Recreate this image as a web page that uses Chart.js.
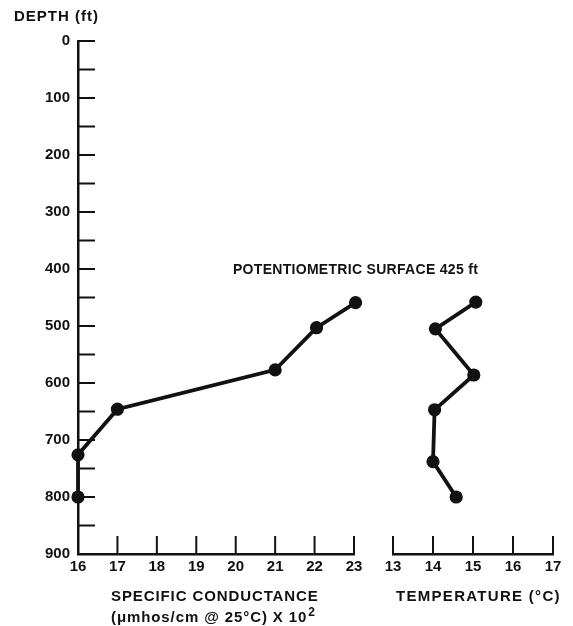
<!DOCTYPE html>
<html><head><meta charset="utf-8">
<script src="https://cdn.jsdelivr.net/npm/chart.js@4/dist/chart.umd.min.js"></script>
<style>
html,body{margin:0;padding:0;background:#fff;}
#wrap{position:relative;width:573px;height:626px;overflow:hidden;}
canvas{position:absolute;left:0;top:0;}
</style></head><body>
<div id="wrap"><canvas id="c1" width="573" height="626"></canvas><canvas id="c2" width="573" height="626"></canvas></div>
<script>
// ---- data ----
const depthCond = [459, 503, 577, 646, 726, 800];
const conductance = [23.04, 22.05, 21.0, 17.0, 16.0, 16.0];
const depthTemp = [458, 505, 586, 647, 738, 800];
const temperature = [15.07, 14.06, 15.02, 14.04, 14.0, 14.58];
const depthTicks = [0,50,100,150,200,250,300,350,400,450,500,550,600,650,700,750,800,850,900];
const condTicks = [16,17,18,19,20,21,22,23];
const tempTicks = [13,14,15,16,17];
const depthTitle = 'DEPTH (ft)';
const condTitle = ['SPECIFIC CONDUCTANCE', '(\u03BCmhos/cm @ 25\u00B0C) X 10'];
const condTitleSup = '2';
const tempTitle = 'TEMPERATURE (\u00B0C)';
const noteText = 'POTENTIOMETRIC SURFACE 425 ft';
const noteAt = {cond: 19.93, depth: 402};

const FF = "'Liberation Sans', Arial, sans-serif";
const INK = '#111';
const tickFont = {family: FF, size: 15, weight: 'bold'};

function pts(xs, ys){ return xs.map((x,i)=>({x:x, y:ys[i]})); }

function inwardTicks(chart, yTicks){
  const ctx = chart.ctx, x = chart.scales.x, a = chart.chartArea;
  ctx.save();
  ctx.strokeStyle = INK; ctx.lineWidth = 2;
  x.ticks.forEach(t => {
    const px = x.getPixelForValue(t.value);
    ctx.beginPath(); ctx.moveTo(px, a.bottom); ctx.lineTo(px, a.bottom - 18); ctx.stroke();
  });
  if (yTicks) {
    const y = chart.scales.y;
    y.ticks.forEach(t => {
      const py = y.getPixelForValue(t.value);
      ctx.beginPath(); ctx.moveTo(a.left, py); ctx.lineTo(a.left + 17, py); ctx.stroke();
    });
  }
  ctx.restore();
}

const dataset = (data) => ({
  data: data, showLine: true, borderColor: INK, backgroundColor: INK,
  borderWidth: 3.8, pointRadius: 4.7, pointHoverRadius: 4.7, tension: 0, clip: false
});

const common = {
  responsive: false, animation: false,
  plugins: {legend: {display: false}, tooltip: {enabled: false}, title: {display: false}},
};

const yScale = (show) => ({
  type: 'linear', reverse: true, min: 0, max: 900, display: show,
  afterBuildTicks: s => { s.ticks = depthTicks.map(v => ({value: v})); },
  afterFit: s => { s.width = show ? 78 : 0; },
  ticks: {autoSkip: false, color: INK, font: tickFont, padding: 8,
    callback: v => (v % 100 === 0 ? String(v) : '')},
  grid: {display: false, drawTicks: false},
  border: {display: show, color: INK, width: 2.5}
});

const xScale = (min, max, ticks) => ({
  type: 'linear', position: 'bottom', min: min, max: max,
  afterBuildTicks: s => { s.ticks = ticks.map(v => ({value: v})); },
  afterFit: s => { s.height = 72; },
  ticks: {autoSkip: false, color: INK, font: tickFont, padding: 4, maxRotation: 0},
  grid: {display: false, drawTicks: false},
  border: {display: true, color: INK, width: 2.5}
});

new Chart(document.getElementById('c1'), {
  type: 'scatter',
  data: {datasets: [dataset(pts(conductance, depthCond))]},
  options: Object.assign({}, common, {
    layout: {padding: {left: 0, top: 41, right: 219, bottom: 0}},
    scales: {x: xScale(16, 23, condTicks), y: yScale(true)}
  }),
  plugins: [{
    id: 'deco1',
    afterDraw(chart){
      inwardTicks(chart, true);
      const ctx = chart.ctx, x = chart.scales.x, y = chart.scales.y, a = chart.chartArea;
      ctx.save();
      ctx.fillStyle = INK;
      ctx.textBaseline = 'middle'; ctx.textAlign = 'left';
      ctx.font = 'bold 15px ' + FF;
      ctx.letterSpacing = '1px';
      ctx.fillText(depthTitle, 14, 17);
      ctx.font = 'bold 14px ' + FF;
      ctx.letterSpacing = '0.3px';
      ctx.fillText(noteText, x.getPixelForValue(noteAt.cond), y.getPixelForValue(noteAt.depth));
      ctx.font = 'bold 15px ' + FF;
      ctx.letterSpacing = '0.9px';
      const tx = 111;
      ctx.fillText(condTitle[0], tx, a.bottom + 43);
      ctx.fillText(condTitle[1], tx, a.bottom + 64);
      const w = ctx.measureText(condTitle[1]).width;
      ctx.font = 'bold 12px ' + FF;
      ctx.fillText(condTitleSup, tx + w + 1, a.bottom + 59);
      ctx.restore();
    }
  }]
});

new Chart(document.getElementById('c2'), {
  type: 'scatter',
  data: {datasets: [dataset(pts(temperature, depthTemp))]},
  options: Object.assign({}, common, {
    layout: {padding: {left: 393, top: 41, right: 20, bottom: 0}},
    scales: {x: xScale(13, 17, tempTicks), y: yScale(false)}
  }),
  plugins: [{
    id: 'deco2',
    afterDraw(chart){
      inwardTicks(chart, false);
      const ctx = chart.ctx, a = chart.chartArea;
      ctx.save();
      ctx.fillStyle = INK;
      ctx.textBaseline = 'middle'; ctx.textAlign = 'left';
      ctx.font = 'bold 15px ' + FF;
      ctx.letterSpacing = '1.3px';
      ctx.fillText(tempTitle, a.left + 3, a.bottom + 43);
      ctx.restore();
    }
  }]
});
</script>
</body></html>
